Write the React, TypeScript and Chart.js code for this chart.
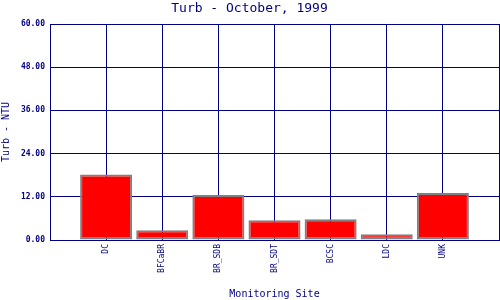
import React, { useEffect, useRef } from "react";
import { Chart, registerables } from "chart.js";

Chart.register(...registerables);

const sites = ["DC", "BFCaBR", "BR_SDB", "BR_SDT", "BCSC", "LDC", "UNK"];
const turbValues = [18.2, 2.7, 12.5, 5.5, 5.75, 1.6, 13.05];
const yTickValues = [0, 12, 24, 36, 48, 60];

const NAVY = "#000080";
const MONO = "'DejaVu Sans Mono', monospace";

export default function App() {
  const ref = useRef<HTMLCanvasElement | null>(null);

  useEffect(() => {
    document.body.style.margin = "0";
    const canvas = ref.current;
    if (!canvas) return;
    const labels = ["", ...sites, ""];
    const data = [null, ...turbValues, null];
    const chart = new Chart(canvas, {
      type: "bar",
      data: {
        labels,
        datasets: [
          {
            data,
            backgroundColor: "#ff0000",
            borderColor: "#808080",
            borderWidth: 2,
            borderSkipped: false,
            barPercentage: 1,
            categoryPercentage: 0.927,
          },
        ],
      },
      options: {
        animation: false,
        responsive: false,
        devicePixelRatio: 1,
        layout: { padding: { left: 0, right: 1, top: 0, bottom: 0 } },
        plugins: {
          legend: { display: false },
          tooltip: { enabled: false },
          title: {
            display: true,
            text: "Turb - October, 1999",
            color: NAVY,
            font: { family: MONO, size: 13, weight: "normal", lineHeight: 1 },
            padding: { top: 2, bottom: 9 },
          },
        },
        scales: {
          x: {
            type: "category",
            offset: false,
            grid: {
              color: NAVY,
              lineWidth: 1,
              drawTicks: false,
              offset: false,
            },
            border: { color: NAVY, width: 1 },
            ticks: {
              color: NAVY,
              font: { family: MONO, size: 8 },
              minRotation: 90,
              maxRotation: 90,
              autoSkip: false,
              padding: 4,
            },
            title: {
              display: true,
              text: "Monitoring Site",
              color: NAVY,
              font: { family: MONO, size: 10, lineHeight: 1.2 },
              padding: { top: 0, bottom: 0 },
            },
            afterFit: (s: any) => {
              s.height = 60;
              s.paddingLeft = 0;
              s.paddingRight = 0;
            },
          },
          y: {
            min: 0,
            max: 60,
            afterBuildTicks: (s: any) => {
              s.ticks = yTickValues.map((v) => ({ value: v }));
            },
            grid: {
              color: NAVY,
              lineWidth: 1,
              drawTicks: false,
            },
            border: { color: NAVY, width: 1 },
            ticks: {
              color: NAVY,
              font: { family: MONO, size: 8, weight: "bold" },
              padding: 5,
              callback: (v: any) => Number(v).toFixed(2),
            },
            title: {
              display: true,
              text: "Turb - NTU",
              color: NAVY,
              font: { family: MONO, size: 10, lineHeight: 1.2 },
              padding: { top: 0, bottom: 0 },
            },
            afterFit: (s: any) => {
              s.width = 50;
              s.paddingTop = 0;
              s.paddingBottom = 0;
            },
          },
        },
      },
    });
    return () => chart.destroy();
  }, []);

  return (
    <div style={{ position: "absolute", left: 0, top: 0, width: 500, height: 300 }}>
      <canvas ref={ref} width={500} height={300} />
    </div>
  );
}
